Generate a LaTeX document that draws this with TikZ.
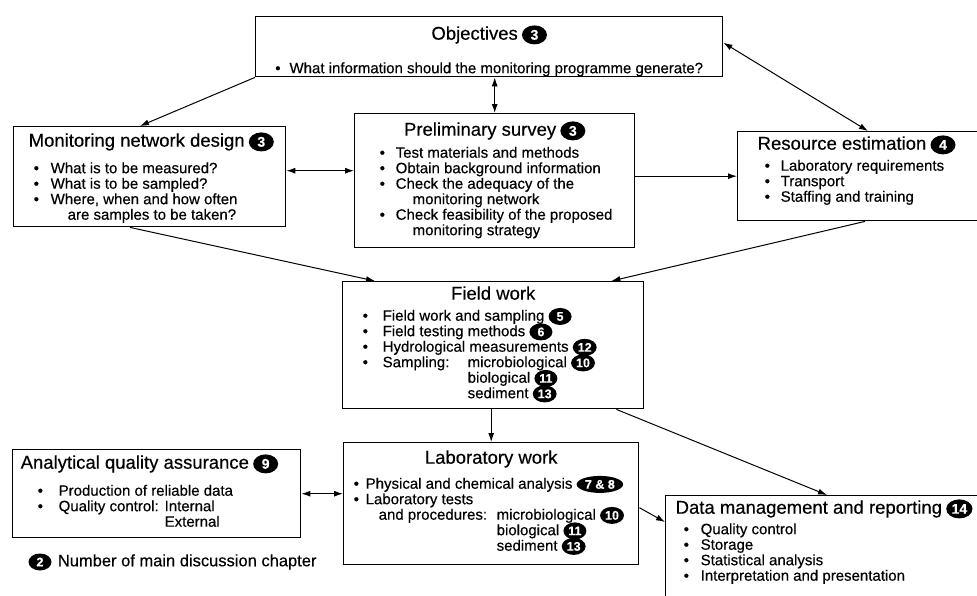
\documentclass[tikz,border=0pt]{standalone}
\usepackage{fontspec}
\setmainfont{Liberation Sans}[FakeBold=0.4]
\usetikzlibrary{shapes.geometric,arrows.meta,positioning}

\tikzset{
  box/.style = {draw, line width = 1.4pt, anchor = north west, inner sep = 0pt},
  badge/.style = {ellipse, fill = black, draw = none, text = white, anchor = center,
    inner xsep = 1.5pt, inner ysep = 0pt, minimum width = 23pt, minimum height = 17pt,
    font = \bfseries\fontsize{12.5}{12.5}\selectfont},
  bigbadge/.style = {badge, minimum width = 25pt, minimum height = 19pt,
    font = \bfseries\fontsize{14}{14}\selectfont},
  link/.style = {line width = 1pt, -{Latex[length = 9pt, width = 6pt]}},
  dlink/.style = {line width = 1pt, {Latex[length = 9pt, width = 6pt]}-{Latex[length = 9pt, width = 6pt]}}
}
\newcommand{\chap}[1]{\tikz[baseline = (c.base)] \node[badge] (c) {#1};}
\newcommand{\tchap}[1]{\tikz[baseline = (c.base)] \node[bigbadge] (c) {#1};}
\newcommand{\ttl}{\fontsize{18.5}{15.5}\selectfont}
\newcommand{\bul}[1]{\makebox[#1pt][l]{\textbullet}}
\newcommand{\boxbody}[3]{\begin{minipage}[t][#2pt][t]{#1pt}\fontsize{15}{15.5}\selectfont\lineskiplimit = -100pt\relax #3\end{minipage}}

\begin{document}
\begin{tikzpicture}[x = 1pt, y = -1pt]
\useasboundingbox (0,0) rectangle (977,595);
\clip (0,0) rectangle (977,595);

\node[box] (obj) at (255,16) {\boxbody{467}{60}{\vspace*{8pt}%
  \makebox[467pt]{\rule{0pt}{15pt}{\ttl Objectives} \tchap{3}}\\[18pt]
  \makebox[467pt]{\textbullet\hspace{9pt}What information should the monitoring programme generate?}}};

\node[box] (mon) at (13,126) {\boxbody{272}{100}{\vspace*{5pt}%
  \hspace*{15pt}\rule{0pt}{15pt}{\ttl Monitoring network design} \tchap{3}\\[11pt]
  \hspace*{20pt}\bul{17}What is to be measured?\\
  \hspace*{20pt}\bul{17}What is to be sampled?\\
  \hspace*{20pt}\bul{17}Where, when and how often\\
  \hspace*{54pt}are samples to be taken?}};

\node[box] (pre) at (354,113) {\boxbody{280}{134}{\vspace*{7pt}%
  \makebox[280pt]{\rule{0pt}{15pt}{\ttl Preliminary survey} \tchap{3}}\\[6.5pt]
  \hspace*{25pt}\bul{16}Test materials and methods\\
  \hspace*{25pt}\bul{16}Obtain background information\\
  \hspace*{25pt}\bul{16}Check the adequacy of the\\
  \hspace*{58pt}monitoring network\\
  \hspace*{25pt}\bul{16}Check feasibility of the proposed\\
  \hspace*{58pt}monitoring strategy}};

\node[box] (res) at (737,131) {\boxbody{270}{89}{\vspace*{3pt}%
  \hspace*{20pt}\rule{0pt}{15pt}{\ttl Resource estimation} \tchap{4}\\[5.5pt]
  \hspace*{27pt}\bul{16}Laboratory requirements\\
  \hspace*{27pt}\bul{16}Transport\\
  \hspace*{27pt}\bul{16}Staffing and training}};

\node[box] (field) at (342,281) {\boxbody{301}{127}{\vspace*{3pt}%
  \makebox[301pt]{\rule{0pt}{15pt}\ttl Field work}\\[5.5pt]
  \hspace*{20pt}\bul{20}Field work and sampling \chap{5}\\
  \hspace*{20pt}\bul{20}Field testing methods \chap{6}\\
  \hspace*{20pt}\bul{20}Hydrological measurements \chap{12}\\
  \hspace*{20pt}\bul{20}\makebox[85pt][l]{Sampling:}microbiological \chap{10}\\
  \hspace*{125pt}biological \chap{11}\\
  \hspace*{125pt}sediment \chap{13}}};

\node[box] (aqa) at (12,449) {\boxbody{288}{88}{\vspace*{4pt}%
  \hspace*{8pt}\rule{0pt}{15pt}{\ttl Analytical quality assurance} \tchap{9}\\[11.5pt]
  \hspace*{25pt}\bul{21}Production of reliable data\\
  \hspace*{25pt}\bul{21}\makebox[106pt][l]{Quality control:}Internal\\
  \hspace*{152pt}External}};

\node[box] (lab) at (343,442) {\boxbody{295}{122}{\vspace*{6pt}%
  \makebox[295pt]{\rule{0pt}{15pt}\ttl Laboratory work}\\[9.5pt]
  \hspace*{10pt}\bul{12}Physical and chemical analysis \chap{7 \& 8}\\
  \hspace*{10pt}\bul{12}Laboratory tests\\
  \hspace*{35pt}\makebox[118pt][l]{and procedures:}microbiological \chap{10}\\
  \hspace*{153pt}biological \chap{11}\\
  \hspace*{153pt}sediment \chap{13}}};

\node[box] (data) at (665,495) {\boxbody{330}{120}{\vspace*{3pt}%
  \hspace*{10pt}\rule{0pt}{15pt}{\ttl Data management and reporting} \tchap{14}\\[5pt]
  \hspace*{18pt}\bul{17}Quality control\\
  \hspace*{18pt}\bul{17}Storage\\
  \hspace*{18pt}\bul{17}Statistical analysis\\
  \hspace*{18pt}\bul{17}Interpretation and presentation}};

\node[badge] (key) at (40,562) {2};
\node[right = 6pt of key, inner sep = 0pt, font = \fontsize{16.5}{18}\selectfont] (keytext) {Number of main discussion chapter};

\coordinate (m1) at ([yshift = 6pt]mon.east);
\draw[link] (obj.south west) -- ([xshift = 127pt]mon.north west);
\draw[dlink] (obj.south -| pre.north) -- (pre.north);
\draw[dlink] ([yshift = 4pt]obj.east) -- ([xshift = 131pt]res.north west);
\draw[dlink] (m1) -- (m1 -| pre.west);
\draw[link] (res.west -| pre.east) -- (res.west);
\draw[link] ([xshift = 117pt]mon.south west) -- ([xshift = 33pt]field.north west);
\draw[link] ([xshift = 128pt]res.south west) -- ([xshift = -33pt]field.north east);
\draw[link] (field.south -| lab.north) -- (lab.north);
\draw[link] ([xshift = -28pt]field.south east) -- ([xshift = 162pt]data.north west);
\draw[dlink] (aqa.east) -- (aqa.east -| lab.west);
\draw[link] ([yshift = -4pt]lab.east) -- ([yshift = -27pt]data.north west);
\end{tikzpicture}
\end{document}
